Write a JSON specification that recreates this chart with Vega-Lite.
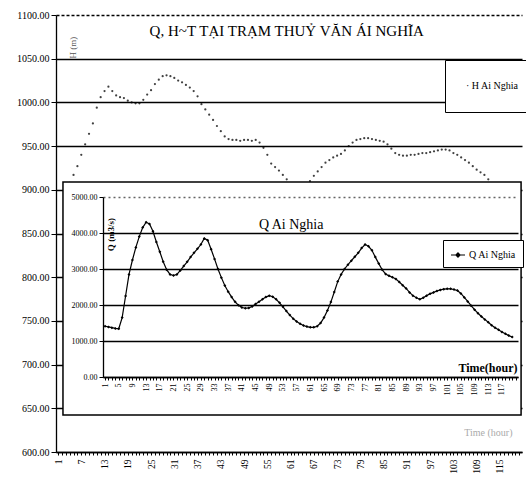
{
  "$schema": "https://vega.github.io/schema/vega-lite/v6.json",
  "width": 466,
  "height": 437,
  "autosize": {"type": "none"},
  "padding": {"left": 56, "top": 15, "right": 4, "bottom": 37},
  "background": "white",
  "config": {
    "view": {"stroke": null},
    "font": "Liberation Serif",
    "axis": {"labelFont": "Liberation Serif", "titleFont": "Liberation Serif", "domainColor": "black", "tickColor": "black", "labelColor": "black", "titleColor": "black", "domainWidth": 1.3},
    "legend": {"labelFont": "Liberation Serif", "labelColor": "black"},
    "text": {"font": "Liberation Serif", "color": "black"}
  },
  "data": {"values": [
    {"h":1,"H":null,"Q":1410},{"h":2,"H":null,"Q":1390},{"h":3,"H":null,"Q":1370},{"h":4,"H":908,"Q":1350},{"h":5,"H":917,"Q":1340},
    {"h":6,"H":927,"Q":1650},{"h":7,"H":940,"Q":2250},{"h":8,"H":952,"Q":2850},{"h":9,"H":964,"Q":3250},{"h":10,"H":976,"Q":3600},
    {"h":11,"H":994,"Q":3900},{"h":12,"H":1006,"Q":4150},{"h":13,"H":1013,"Q":4300},{"h":14,"H":1018,"Q":4250},{"h":15,"H":1013,"Q":4050},
    {"h":16,"H":1008,"Q":3750},{"h":17,"H":1006,"Q":3480},{"h":18,"H":1005,"Q":3200},{"h":19,"H":1002,"Q":2980},{"h":20,"H":1000,"Q":2850},
    {"h":21,"H":999,"Q":2820},{"h":22,"H":999,"Q":2850},{"h":23,"H":1003,"Q":2960},{"h":24,"H":1009,"Q":3080},{"h":25,"H":1014,"Q":3200},
    {"h":26,"H":1021,"Q":3330},{"h":27,"H":1026,"Q":3450},{"h":28,"H":1030,"Q":3560},{"h":29,"H":1031,"Q":3680},{"h":30,"H":1030,"Q":3850},
    {"h":31,"H":1028,"Q":3800},{"h":32,"H":1025,"Q":3550},{"h":33,"H":1023,"Q":3280},{"h":34,"H":1020,"Q":3000},{"h":35,"H":1017,"Q":2760},
    {"h":36,"H":1013,"Q":2540},{"h":37,"H":1007,"Q":2370},{"h":38,"H":998,"Q":2220},{"h":39,"H":992,"Q":2090},{"h":40,"H":986,"Q":1990},
    {"h":41,"H":980,"Q":1930},{"h":42,"H":973,"Q":1910},{"h":43,"H":967,"Q":1920},{"h":44,"H":961,"Q":1960},{"h":45,"H":958,"Q":2030},
    {"h":46,"H":957,"Q":2090},{"h":47,"H":957,"Q":2160},{"h":48,"H":956,"Q":2220},{"h":49,"H":957,"Q":2260},{"h":50,"H":957,"Q":2230},
    {"h":51,"H":956,"Q":2160},{"h":52,"H":957,"Q":2060},{"h":53,"H":954,"Q":1950},{"h":54,"H":948,"Q":1830},{"h":55,"H":940,"Q":1720},
    {"h":56,"H":930,"Q":1620},{"h":57,"H":926,"Q":1540},{"h":58,"H":922,"Q":1480},{"h":59,"H":917,"Q":1430},{"h":60,"H":912,"Q":1400},
    {"h":61,"H":905,"Q":1380},{"h":62,"H":898,"Q":1380},{"h":63,"H":895,"Q":1410},{"h":64,"H":896,"Q":1500},{"h":65,"H":902,"Q":1650},
    {"h":66,"H":910,"Q":1850},{"h":67,"H":916,"Q":2080},{"h":68,"H":921,"Q":2360},{"h":69,"H":926,"Q":2650},{"h":70,"H":931,"Q":2850},
    {"h":71,"H":934,"Q":3000},{"h":72,"H":937,"Q":3120},{"h":73,"H":939,"Q":3230},{"h":74,"H":941,"Q":3340},{"h":75,"H":945,"Q":3450},
    {"h":76,"H":950,"Q":3580},{"h":77,"H":954,"Q":3680},{"h":78,"H":957,"Q":3630},{"h":79,"H":958,"Q":3520},{"h":80,"H":959,"Q":3330},
    {"h":81,"H":959,"Q":3150},{"h":82,"H":958,"Q":2980},{"h":83,"H":957,"Q":2860},{"h":84,"H":956,"Q":2810},{"h":85,"H":955,"Q":2770},
    {"h":86,"H":952,"Q":2720},{"h":87,"H":947,"Q":2640},{"h":88,"H":942,"Q":2550},{"h":89,"H":940,"Q":2460},{"h":90,"H":939,"Q":2350},
    {"h":91,"H":939,"Q":2260},{"h":92,"H":940,"Q":2200},{"h":93,"H":940,"Q":2160},{"h":94,"H":941,"Q":2200},{"h":95,"H":942,"Q":2260},
    {"h":96,"H":942,"Q":2310},{"h":97,"H":943,"Q":2350},{"h":98,"H":944,"Q":2390},{"h":99,"H":945,"Q":2420},{"h":100,"H":946,"Q":2440},
    {"h":101,"H":946,"Q":2450},{"h":102,"H":945,"Q":2450},{"h":103,"H":942,"Q":2430},{"h":104,"H":940,"Q":2400},{"h":105,"H":937,"Q":2320},
    {"h":106,"H":934,"Q":2210},{"h":107,"H":931,"Q":2100},{"h":108,"H":927,"Q":1980},{"h":109,"H":923,"Q":1870},{"h":110,"H":920,"Q":1770},
    {"h":111,"H":917,"Q":1680},{"h":112,"H":912,"Q":1600},{"h":113,"H":906,"Q":1520},{"h":114,"H":900,"Q":1440},{"h":115,"H":895,"Q":1370},
    {"h":116,"H":890,"Q":1310},{"h":117,"H":885,"Q":1250},{"h":118,"H":880,"Q":1200},{"h":119,"H":876,"Q":1150},{"h":120,"H":872,"Q":1110}
  ]},
  "layer": [
    {
      "layer": [
        {
          "mark": {"type": "point", "filled": true, "size": 5, "opacity": 0.75, "shape": "circle"},
          "encoding": {
            "x": {"field": "h", "type": "quantitative",
              "scale": {"domain": [0.48, 120.7], "nice": false, "zero": false},
              "axis": {"orient": "bottom", "title": "Time (hour)", "tickCount": 120, "format": "d",
                "labelExpr": "(datum.value - 1) % 6 == 0 ? datum.label : ''",
                "labelAngle": -90, "labelFontSize": 9.5, "labelPadding": 4, "labelOverlap": false, "labelFlush": false,
                "tickSize": 3, "grid": false,
                "titleColor": "#aaaaaa", "titleFontSize": 10, "titleFontWeight": "normal", "titleX": 456, "titleY": -20, "titleAlign": "right", "titleBaseline": "middle"}},
            "y": {"field": "H", "type": "quantitative",
              "scale": {"domain": [600, 1100], "nice": false, "zero": false},
              "axis": {"orient": "left", "values": [600,650,700,750,800,850,900,950,1000,1050,1100], "format": ".2f",
                "grid": true, "gridColor": "black", "gridWidth": 1.3,
                "gridDash": {"condition": {"test": "datum.value == 1100", "value": [3, 2]}, "value": []},
                "labelFontSize": 10, "labelPadding": 2, "tickSize": 5,
                "title": "H (m)", "titleX": 12, "titleY": 32, "titleAngle": -90, "titleBaseline": "top", "titleAlign": "center",
                "titleFontSize": 9, "titleFontWeight": "normal", "titleColor": "#555555"}},
            "color": {"datum": "H Ai Nghia", "type": "nominal", "scale": {"range": ["black"]},
              "legend": {"orient": "none", "legendX": 389, "legendY": 45, "title": null, "fillColor": "white", "strokeColor": "black",
                "padding": 9, "labelFontSize": 10, "labelOffset": 2,
                "labelExpr": "['', '·   ' + datum.label, '']", "labelLineHeight": 12,
                "symbolType": "circle", "symbolSize": 1, "symbolOpacity": 0, "symbolStrokeWidth": 0, "zindex": 2}}
          }
        },
        {
          "data": {"values": [{"label": "Q, H~T TẠI TRẠM THUỶ VĂN ÁI NGHĨA"}]},
          "mark": {"type": "text", "fontSize": 15},
          "encoding": {
            "x": {"datum": 60, "type": "quantitative"},
            "y": {"datum": 1082, "type": "quantitative"},
            "text": {"field": "label"}
          }
        }
      ]
    },
    {
      "layer": [
        {
          "data": {"values": [{"label": "Q Ai Nghia"}]},
          "mark": {"type": "rect", "fill": "white", "stroke": "black", "strokeWidth": 1.5},
          "encoding": {
            "x": {"datum": -11.3, "type": "quantitative", "scale": {"domain": [0.4, 121.7], "range": [47, 462], "nice": false, "zero": false}},
            "x2": {"datum": 122.6},
            "y": {"datum": 5417, "type": "quantitative", "scale": {"domain": [0, 5000], "range": [362, 182], "nice": false, "zero": false}},
            "y2": {"datum": -1056}
          }
        },
        {
          "mark": {"type": "line", "color": "black", "strokeWidth": 1.2,
            "point": {"shape": "diamond", "size": 9, "filled": true, "color": "black"}},
          "encoding": {
            "x": {"field": "h", "type": "quantitative",
              "scale": {"domain": [0.4, 121.7], "range": [47, 462], "nice": false, "zero": false},
              "axis": {"orient": "bottom", "offset": -75, "zindex": 1, "title": "Time(hour)", "tickCount": 120, "format": "d",
                "labelExpr": "datum.value <= 117 && (datum.value - 1) % 4 == 0 ? datum.label : ''",
                "labelAngle": -90, "labelFontSize": 8, "labelPadding": 3, "labelOverlap": false, "labelFlush": false,
                "tickSize": 3, "grid": false,
                "titleX": 461, "titleY": -10, "titleAlign": "right", "titleBaseline": "middle", "titleFontSize": 12, "titleFontWeight": "bold"}},
            "y": {"field": "Q", "type": "quantitative",
              "scale": {"domain": [0, 5000], "range": [362, 182], "nice": false, "zero": false},
              "axis": {"orient": "left", "offset": -47, "zindex": 1, "values": [0,1000,2000,3000,4000,5000], "format": ".2f",
                "grid": true,
                "gridColor": {"condition": {"test": "datum.value == 5000", "value": "#666666"}, "value": "black"},
                "gridWidth": 1.3,
                "gridDash": {"condition": {"test": "datum.value == 5000", "value": [2, 3]}, "value": []},
                "labelFontSize": 8, "labelPadding": 2, "tickSize": 4,
                "title": "Q (m3/s)", "titleX": 3, "titleY": 219, "titleAngle": -90, "titleBaseline": "top", "titleAlign": "center",
                "titleFontSize": 9, "titleFontWeight": "bold"}},
            "color": {"datum": "Q Ai Nghia", "type": "nominal", "scale": {"range": ["black"]},
              "legend": {"orient": "none", "legendX": 387, "legendY": 225, "title": null, "fillColor": "white", "strokeColor": "black",
                "padding": 7, "labelFontSize": 10, "labelOffset": 3,
                "symbolType": "M-1,0L1,0M0,-0.3L0.3,0L0,0.3L-0.3,0Z", "symbolSize": 196,
                "symbolStrokeColor": "black", "symbolFillColor": "black", "symbolStrokeWidth": 1.2, "zindex": 2}}
          }
        },
        {
          "data": {"values": [{"label": "Q Ai Nghia"}]},
          "mark": {"type": "text", "fontSize": 14},
          "encoding": {
            "x": {"datum": 55.4, "type": "quantitative"},
            "y": {"datum": 4222, "type": "quantitative"},
            "text": {"field": "label"}
          }
        }
      ]
    }
  ],
  "resolve": {
    "scale": {"x": "independent", "y": "independent", "color": "independent"},
    "axis": {"x": "independent", "y": "independent"},
    "legend": {"color": "independent"}
  }
}
